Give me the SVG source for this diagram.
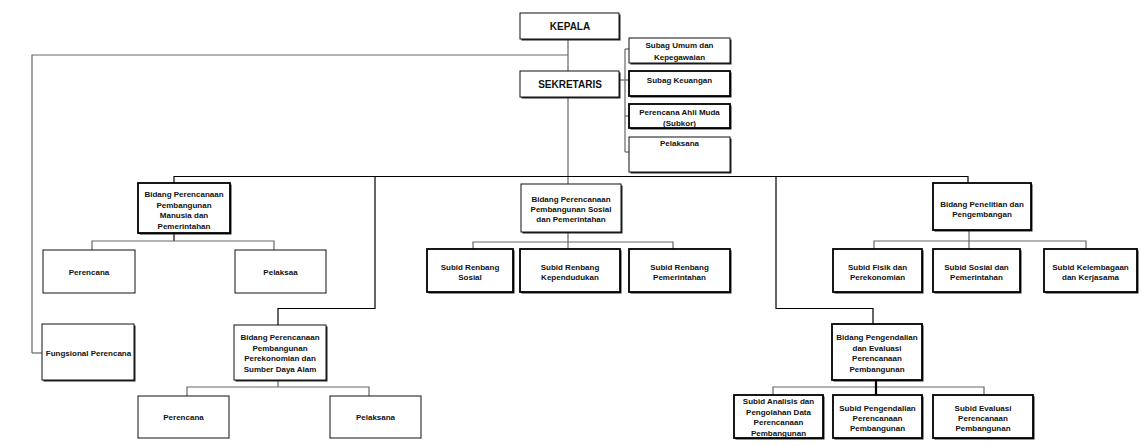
<svg xmlns="http://www.w3.org/2000/svg" width="1144" height="446" viewBox="0 0 1144 446">
<style>
.bg{fill:#fff}
.sh{fill:#222}
.b{fill:#fff;stroke:#111;stroke-width:1}
.bb{fill:#fff;stroke:#000;stroke-width:1.8}
.t{font-family:"Liberation Sans",Arial,sans-serif;font-weight:bold;font-size:8px;fill:#111;text-anchor:middle}
.big{font-size:10px}
.g{stroke:#666;stroke-width:1.2;fill:none}
.k{stroke:#000;stroke-width:1.2;fill:none}
.kk{stroke:#000;stroke-width:2.2;fill:none}
</style>
<rect class="bg" x="0" y="0" width="1144" height="446"/>
<g id="connectors">
<polyline class="g" points="32,353 32,55 568,55"/>
<line class="g" x1="32" y1="353" x2="42" y2="353"/>
<line class="g" x1="568" y1="39" x2="568" y2="71"/>
<line class="g" x1="568" y1="97" x2="568" y2="184"/>
<line class="g" x1="620" y1="80" x2="625" y2="80"/>
<line class="g" x1="625" y1="49" x2="625" y2="152"/>
<line class="g" x1="625" y1="49" x2="629" y2="49"/>
<line class="g" x1="625" y1="80" x2="629" y2="80"/>
<line class="g" x1="625" y1="116" x2="629" y2="116"/>
<line class="g" x1="625" y1="152" x2="629" y2="152"/>
<line class="k" x1="174" y1="176.5" x2="968" y2="176.5"/>
<line class="k" x1="174" y1="176" x2="174" y2="183"/>
<line class="k" x1="968" y1="176" x2="968" y2="183"/>
<polyline class="k" points="375,176 375,308.5 278,308.5 278,325"/>
<polyline class="k" points="776,176 776,308.5 873,308.5 873,324"/>
<line class="k" x1="174" y1="233" x2="174" y2="241"/>
<polyline class="g" points="92,250 92,241 274,241 274,250"/>
<line class="g" x1="568" y1="232" x2="568" y2="249"/>
<polyline class="g" points="473,249 473,242 673,242 673,249"/>
<line class="g" x1="969" y1="230" x2="969" y2="249"/>
<polyline class="g" points="874,249 874,241 1086,241 1086,249"/>
<line class="g" x1="278" y1="380" x2="278" y2="387"/>
<polyline class="g" points="187,396 187,387 369,387 369,396"/>
<polyline class="g" points="773,395 773,387 984,387 984,395"/>
<line class="kk" x1="876" y1="380" x2="876" y2="395"/>
</g>
<g id="kepala"><rect class="sh" x="521.5" y="14.5" width="99" height="26"/><rect class="b" x="520" y="13" width="99" height="26"/><text class="t big" x="570" y="30">KEPALA</text></g>
<g id="sekretaris"><rect class="sh" x="521.5" y="72.5" width="99" height="26"/><rect class="b" x="520" y="71" width="99" height="26"/><text class="t big" x="570" y="88">SEKRETARIS</text></g>
<g id="subag-umum"><rect class="sh" x="630.5" y="39.5" width="101" height="25"/><rect class="b" x="629" y="38" width="101" height="25"/><text class="t" x="679.5" y="48">Subag Umum dan</text><text class="t" x="679.5" y="60">Kepegawaian</text></g>
<g id="subag-keuangan"><rect class="sh" x="630.5" y="72.5" width="101" height="25"/><rect class="bb" x="629" y="71" width="101" height="25"/><text class="t" x="679.5" y="83">Subag Keuangan</text></g>
<g id="perencana-ahli"><rect class="sh" x="630.5" y="105.5" width="101" height="24"/><rect class="bb" x="629" y="104" width="101" height="24"/><text class="t" x="679.5" y="115">Perencana Ahli Muda</text><text class="t" x="679.5" y="126">(Subkor)</text></g>
<g id="pelaksana-sek"><rect class="sh" x="630.5" y="138.5" width="101" height="35"/><rect class="b" x="629" y="137" width="101" height="35"/><text class="t" x="679.5" y="146">Pelaksana</text></g>
<g id="bidang-manusia"><rect class="sh" x="139.5" y="184.5" width="92" height="50"/><rect class="bb" x="138" y="183" width="92" height="50"/><text class="t" x="184" y="197">Bidang Perencanaan</text><text class="t" x="184" y="207.5">Pembangunan</text><text class="t" x="184" y="218">Manusia dan</text><text class="t" x="184" y="228.5">Pemerintahan</text></g>
<g id="perencana-1"><rect class="b" x="43" y="250" width="92" height="43"/><text class="t" x="89" y="275">Perencana</text></g>
<g id="pelaksaa-1"><rect class="b" x="235" y="250" width="91" height="43"/><text class="t" x="280.5" y="275">Pelaksaa</text></g>
<g id="bidang-sosial"><rect class="sh" x="522.5" y="185.5" width="100" height="48"/><rect class="b" x="521" y="184" width="100" height="48"/><text class="t" x="571" y="202">Bidang Perencanaan</text><text class="t" x="571" y="212">Pembangunan Sosial</text><text class="t" x="571" y="222">dan Pemerintahan</text></g>
<g id="subid-sosial"><rect class="sh" x="428.5" y="250.5" width="86" height="43"/><rect class="bb" x="427" y="249" width="86" height="43"/><text class="t" x="470" y="270">Subid Renbang</text><text class="t" x="470" y="280">Sosial</text></g>
<g id="subid-kependudukan"><rect class="sh" x="521.5" y="250.5" width="100" height="43"/><rect class="bb" x="520" y="249" width="100" height="43"/><text class="t" x="570" y="270">Subid Renbang</text><text class="t" x="570" y="280">Kependudukan</text></g>
<g id="subid-pemerintahan"><rect class="sh" x="630.5" y="250.5" width="101" height="43"/><rect class="bb" x="629" y="249" width="101" height="43"/><text class="t" x="679.5" y="270">Subid Renbang</text><text class="t" x="679.5" y="280">Pemerintahan</text></g>
<g id="bidang-penelitian"><rect class="sh" x="934.5" y="184.5" width="98" height="47"/><rect class="bb" x="933" y="183" width="98" height="47"/><text class="t" x="982" y="207">Bidang Penelitian dan</text><text class="t" x="982" y="217">Pengembangan</text></g>
<g id="subid-fisik"><rect class="sh" x="834.5" y="250.5" width="89" height="43"/><rect class="bb" x="833" y="249" width="89" height="43"/><text class="t" x="877.5" y="270">Subid Fisik dan</text><text class="t" x="877.5" y="280">Perekonomian</text></g>
<g id="subid-sosial-pem"><rect class="sh" x="934.5" y="250.5" width="87" height="43"/><rect class="bb" x="933" y="249" width="87" height="43"/><text class="t" x="976.5" y="270">Subid Sosial dan</text><text class="t" x="976.5" y="280">Pemerintahan</text></g>
<g id="subid-kelembagaan"><rect class="sh" x="1045.5" y="250.5" width="93" height="43"/><rect class="bb" x="1044" y="249" width="93" height="43"/><text class="t" x="1090.5" y="270">Subid Kelembagaan</text><text class="t" x="1090.5" y="280">dan Kerjasama</text></g>
<g id="fungsional"><rect class="sh" x="43.5" y="325.5" width="92" height="56"/><rect class="b" x="42" y="324" width="92" height="56"/><text class="t" x="88.5" y="356">Fungsional Perencana</text></g>
<g id="bidang-perekonomian"><rect class="sh" x="235.5" y="326.5" width="92" height="55"/><rect class="b" x="234" y="325" width="92" height="55"/><text class="t" x="280" y="340">Bidang Perencanaan</text><text class="t" x="280" y="350.5">Pembangunan</text><text class="t" x="280" y="361">Perekonomian dan</text><text class="t" x="280" y="372">Sumber Daya Alam</text></g>
<g id="perencana-2"><rect class="b" x="138" y="396" width="91" height="42"/><text class="t" x="183.5" y="420">Perencana</text></g>
<g id="pelaksana-2"><rect class="b" x="330" y="396" width="91" height="42"/><text class="t" x="375.5" y="420">Pelaksana</text></g>
<g id="bidang-pengendalian"><rect class="sh" x="833.5" y="325.5" width="90" height="56"/><rect class="bb" x="832" y="324" width="90" height="56"/><text class="t" x="877" y="340">Bidang Pengendalian</text><text class="t" x="877" y="350.5">dan Evaluasi</text><text class="t" x="877" y="361">Perencanaan</text><text class="t" x="877" y="372">Pembangunan</text></g>
<g id="subid-analisis"><rect class="sh" x="735.5" y="396.5" width="89" height="43"/><rect class="bb" x="734" y="395" width="89" height="43"/><text class="t" x="778.5" y="404">Subid Analisis dan</text><text class="t" x="778.5" y="414.5">Pengolahan Data</text><text class="t" x="778.5" y="425">Perencanaan</text><text class="t" x="778.5" y="435.5">Pembangunan</text></g>
<g id="subid-pengendalian"><rect class="sh" x="834.5" y="396.5" width="89" height="43"/><rect class="bb" x="833" y="395" width="89" height="43"/><text class="t" x="877.5" y="411">Subid Pengendalian</text><text class="t" x="877.5" y="421">Perencanaan</text><text class="t" x="877.5" y="431">Pembangunan</text></g>
<g id="subid-evaluasi"><rect class="sh" x="934.5" y="396.5" width="100" height="43"/><rect class="bb" x="933" y="395" width="100" height="43"/><text class="t" x="983" y="411">Subid Evaluasi</text><text class="t" x="983" y="421">Perencanaan</text><text class="t" x="983" y="431">Pembangunan</text></g>
</svg>
